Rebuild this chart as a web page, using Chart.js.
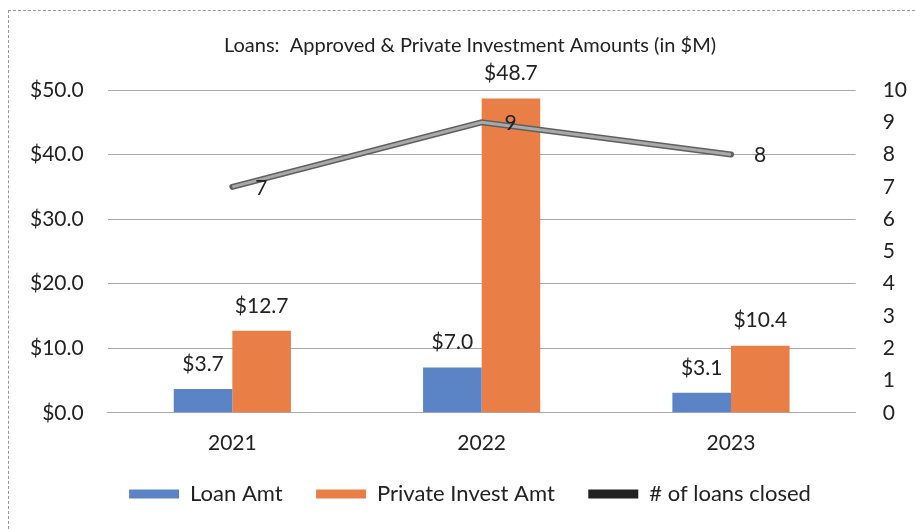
<!DOCTYPE html>
<html>
<head>
<meta charset="utf-8">
<script src="https://cdn.jsdelivr.net/npm/chart.js@4/dist/chart.umd.min.js"></script>
<style>
  html, body { margin: 0; padding: 0; background: #fff; }
  #wrap { position: relative; width: 915px; height: 529px; }
  #frame { position: absolute; left: 8px; top: 10px; right: 0; bottom: 0;
           border-top: 1px dashed #999; border-left: 1px dashed #999; pointer-events: none; }
</style>
</head>
<body>
<div id="wrap">
  <canvas id="loans" width="915" height="529"></canvas>
  <div id="frame"></div>
</div>
<script>
var years = ["2021", "2022", "2023"];
var loanAmt = [3.7, 7.0, 3.1];
var privateAmt = [12.7, 48.7, 10.4];
var loansClosed = [7, 9, 8];

var font = "Lato, 'Open Sans', sans-serif";

// dark outline under the grey line, like the excel one
var lineOutline = {
  id: 'lineOutline',
  beforeDatasetDraw: function(chart, args) {
    var ds = chart.data.datasets[args.index];
    if (ds.type !== 'line') return;
    var pts = args.meta.data;
    var ctx = chart.ctx;
    ctx.save();
    ctx.strokeStyle = '#606060';
    ctx.lineWidth = 6;
    ctx.lineCap = 'round';
    ctx.beginPath();
    pts.forEach(function(p, i) {
      if (i === 0) ctx.moveTo(p.x, p.y); else ctx.lineTo(p.x, p.y);
    });
    ctx.stroke();
    ctx.restore();
  }
};

// draws the value labels
var valueLabels = {
  id: 'valueLabels',
  afterDatasetsDraw: function(chart) {
    var ctx = chart.ctx;
    ctx.save();
    ctx.fillStyle = '#222';
    ctx.font = '21px ' + font;
    chart.data.datasets.forEach(function(ds, i) {
      var meta = chart.getDatasetMeta(i);
      meta.data.forEach(function(el, j) {
        var v = ds.data[j];
        ctx.textAlign = 'center';
        ctx.textBaseline = 'middle';
        if (ds.type === 'line') {
          ctx.fillText(String(v), el.x + 29, el.y + 1);
        } else {
          ctx.fillText('$' + v.toFixed(1), el.x, el.y - 25);
        }
      });
    });
    ctx.restore();
  }
};

new Chart(document.getElementById("loans"), {
  data: {
    labels: years,
    datasets: [{
      type: 'bar',
      label: "Loan Amt",
      data: loanAmt,
      backgroundColor: "#5a84c6",
      yAxisID: 'y',
      categoryPercentage: 0.47,
      barPercentage: 1,
      order: 1
    }, {
      type: 'bar',
      label: "Private Invest Amt",
      data: privateAmt,
      backgroundColor: "#e97f47",
      yAxisID: 'y',
      categoryPercentage: 0.47,
      barPercentage: 1,
      order: 2
    }, {
      type: 'line',
      label: "# of loans closed",
      data: loansClosed,
      borderColor: "#a9a9a9",
      borderWidth: 3,
      pointRadius: 0,
      fill: false,
      yAxisID: 'y1',
      order: -1
    }]
  },
  options: {
    responsive: false,
    animation: false,
    layout: { padding: { left: 6, right: -19, top: 34, bottom: 14 } },
    plugins: {
      title: {
        display: true,
        text: 'Loans:  Approved & Private Investment Amounts (in $M)',
        color: '#222',
        font: { family: font, size: 20, weight: 'normal' },
        padding: { top: 0, bottom: 32 }
      },
      legend: {
        position: 'bottom',
        labels: {
          color: '#222',
          font: { family: font, size: 22 },
          boxWidth: 50,
          boxHeight: 9,
          padding: 17,
          sort: function(a, b) { return a.datasetIndex - b.datasetIndex; },
          generateLabels: function(chart) {
            var n = chart.data.datasets.length;
            return chart.data.datasets.map(function(ds, i) {
              var isLine = ds.type === 'line';
              return {
                // em space after the first two so the items sit further apart
                text: i < n - 1 ? ds.label + '\u2003' : ds.label,
                datasetIndex: i,
                fillStyle: isLine ? '#222' : ds.backgroundColor,
                strokeStyle: isLine ? '#222' : ds.backgroundColor,
                lineWidth: 0,
                fontColor: '#222'
              };
            });
          }
        }
      },
      tooltip: { enabled: false }
    },
    scales: {
      x: {
        grid: { display: false },
        border: { color: '#aaa' },
        ticks: { color: '#222', font: { family: font, size: 21 }, padding: 10 }
      },
      y: {
        position: 'left',
        min: 0,
        max: 50,
        ticks: {
          stepSize: 10,
          color: '#222',
          font: { family: font, size: 21 },
          padding: 24,
          callback: function(v) { return '$' + v.toFixed(1); }
        },
        grid: { color: '#a8a8a8', drawTicks: false },
        border: { display: false }
      },
      y1: {
        position: 'right',
        min: 0,
        max: 10,
        ticks: { stepSize: 1, color: '#222', font: { family: font, size: 21 }, padding: 27 },
        grid: { display: false, drawTicks: false },
        border: { display: false }
      }
    }
  },
  plugins: [lineOutline, valueLabels]
});
</script>
</body>
</html>
